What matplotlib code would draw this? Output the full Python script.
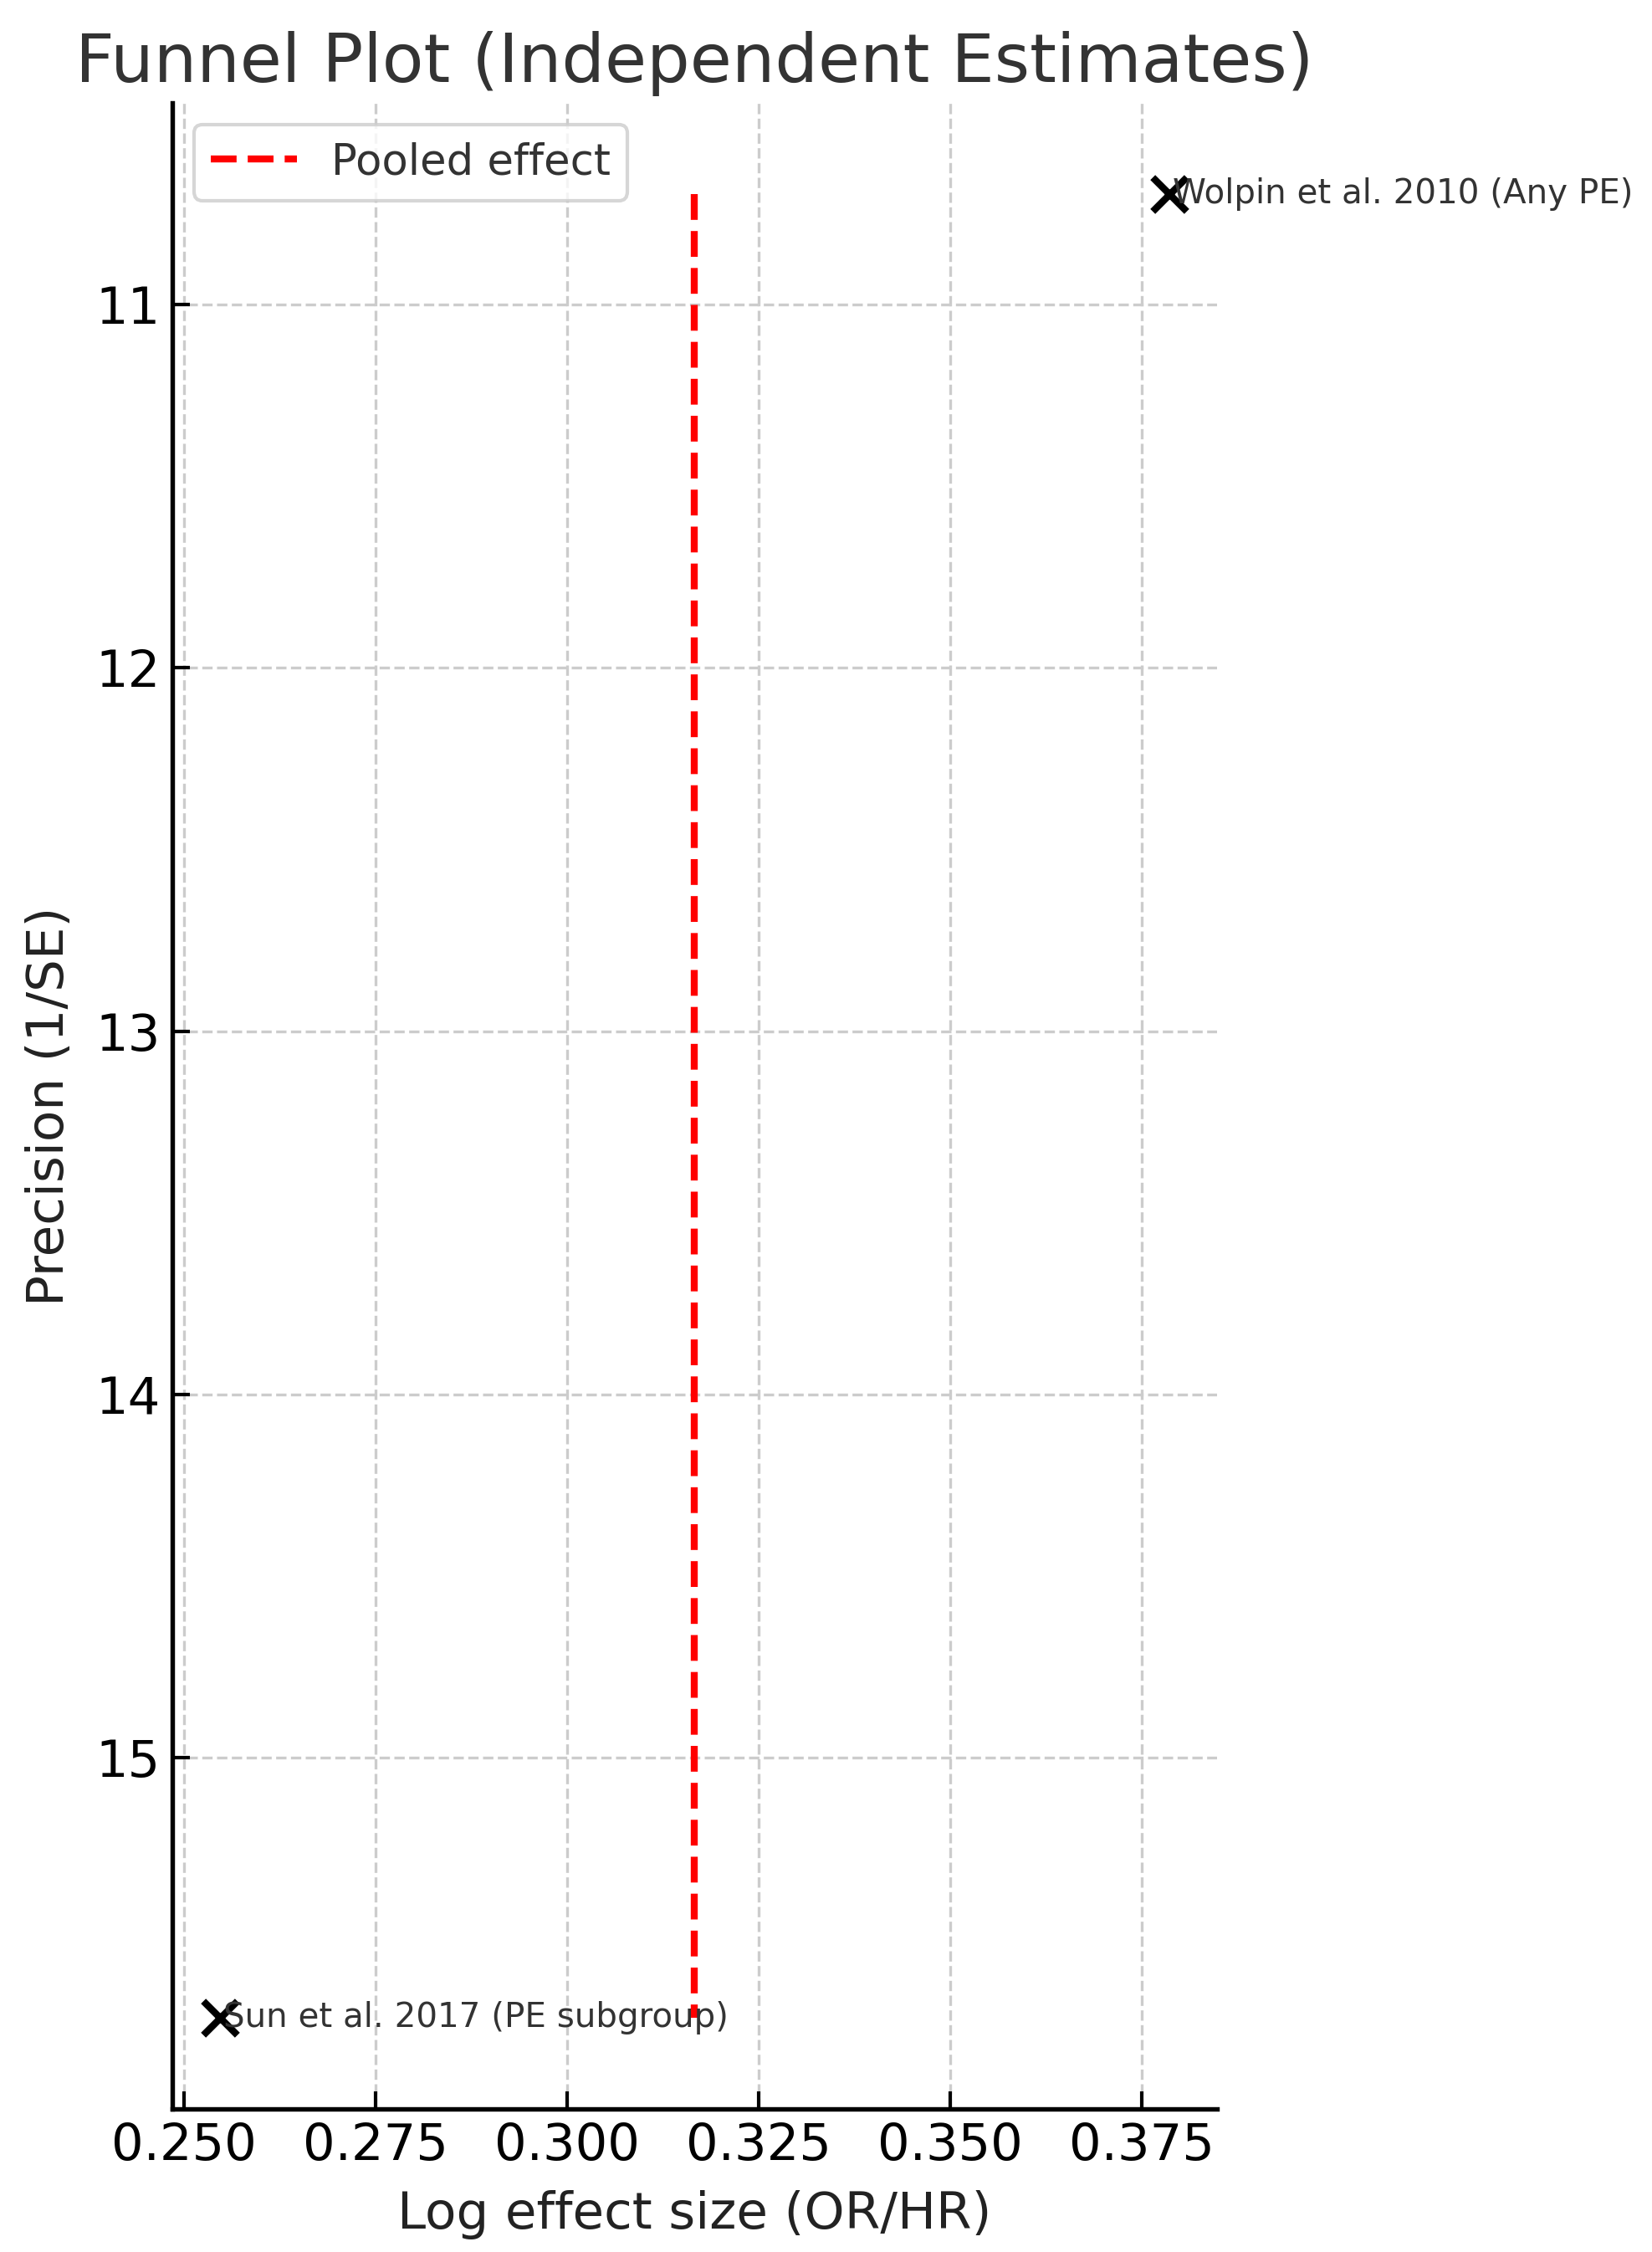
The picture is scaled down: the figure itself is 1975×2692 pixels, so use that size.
import matplotlib.pyplot as plt

# ── Data ──────────────────────────────────────────────────────────────────────

STUDIES    = ["Wolpin et al. 2010 (Any PE)", "Sun et al. 2017 (PE subgroup)"]
LOG_EFFECT = [0.3786, 0.2547]
PRECISION  = [10.696, 15.715]
POOLED     = 0.3166

# ── Figure ────────────────────────────────────────────────────────────────────

DPI = 300
fig = plt.figure(figsize=(1975 / DPI, 2692 / DPI), dpi=DPI)
ax = fig.add_axes([0.1043, 0.0635, 0.6324, 0.8908])

ax.scatter(LOG_EFFECT, PRECISION, marker="x", color="black", s=95, linewidths=2.0, zorder=3)
for name, x, y in zip(STUDIES, LOG_EFFECT, PRECISION):
    ax.annotate(name, (x, y), xytext=(1.0, 0), textcoords="offset points",
                ha="left", va="center", fontsize=9.7, color="#333333")

ax.vlines(POOLED, min(PRECISION), max(PRECISION), colors="red",
          linestyles="--", linewidth=2, label="Pooled effect")

ax.invert_yaxis()
ax.set_xticks([0.250, 0.275, 0.300, 0.325, 0.350, 0.375])
ax.set_yticks([11, 12, 13, 14, 15])
ax.xaxis.set_major_formatter(plt.FormatStrFormatter("%.3f"))
ax.tick_params(direction="in", labelsize=14.6, length=5, width=1)

ax.set_xlabel("Log effect size (OR/HR)", fontsize=14.7, color="#222222", labelpad=5.5)
ax.set_ylabel("Precision (1/SE)", fontsize=14.7, color="#222222", labelpad=6)
ax.set_title("Funnel Plot (Independent Estimates)", fontsize=19.5, color="#333333")

ax.grid(True, linestyle="--", color="#cccccc", linewidth=0.8)
ax.set_axisbelow(True)
for side in ("top", "right"):
    ax.spines[side].set_visible(False)
for side in ("left", "bottom"):
    ax.spines[side].set_linewidth(1.3)

leg = ax.legend(loc="upper left", fontsize=12.3, labelcolor="#333333")

fig.savefig("out.png", dpi=DPI)
